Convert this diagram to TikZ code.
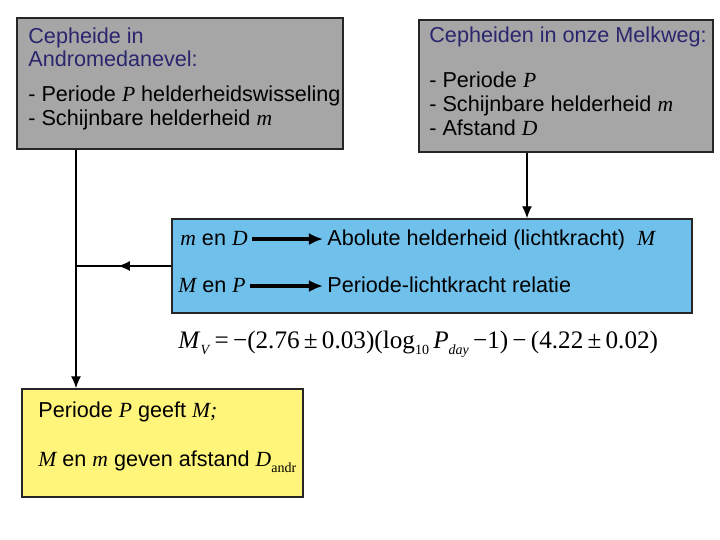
\documentclass[tikz,border=0pt]{standalone}
\usepackage{fontspec}
\setmainfont{Liberation Sans}
\newfontfamily\tms{Liberation Serif}
\usetikzlibrary{calc, arrows.meta}
\definecolor{grijs}{RGB}{166,166,166}
\definecolor{blauw}{RGB}{112,192,236}
\definecolor{geel}{RGB}{255,245,122}
\definecolor{titel}{RGB}{42,38,110}
\newcommand{\gr}[1]{{\tms\itshape #1}}
\newcommand{\lo}[1]{\raisebox{-0.45ex}{\scriptsize #1}}

\begin{document}
\begin{tikzpicture}[x=0.5pt, y=-0.5pt,
  box/.style={draw=black!85, line width=0.7pt, inner sep=0pt},
  txt/.style={anchor=base west, inner sep=0pt, font=\fontsize{10.8}{12}\selectfont},
  verband/.style={line width=0.7pt, -{Latex[length=6pt, width=5pt]}},
  pijl/.style={line width=1.6pt, -{Latex[length=7pt, width=6pt]}, shorten <=2pt, shorten >=2pt}]
\useasboundingbox (0,0) rectangle (720,540);
\coordinate (links) at (76,0);
\coordinate (rechts) at (527,0);
\node[box, fill=grijs, minimum width=163pt, minimum height=65.5pt] (andr) at (180,83.5) {};
\node[box, fill=grijs, minimum width=147pt, minimum height=66pt] (melk) at (566,86) {};
\node[box, fill=blauw, minimum width=260pt, minimum height=47pt] (rel) at (432,266) {};
\node[box, fill=geel, minimum width=140.5pt, minimum height=54pt] (uit) at (162.5,443) {};
% tekst links
\node[txt, text=titel] (a1) at (28,44) {Cepheide in};
\node[txt, text=titel] (a2) at (28,67) {Andromedanevel:};
\node[txt] (a3) at (28,102) {- Periode \gr{P} helderheidswisseling};
\node[txt] (a4) at (28,126) {- Schijnbare helderheid \gr{m}};
% tekst rechts
\node[txt, text=titel] (b1) at (429,43) {Cepheiden in onze Melkweg:};
\node[txt] (b2) at (429,88) {- Periode \gr{P}};
\node[txt] (b3) at (429,112) {- Schijnbare helderheid \gr{m}};
\node[txt] (b4) at (429,136) {- Afstand \gr{D}};
% blauw
\node[txt] (md) at (180,246) {\gr{m} en \gr{D}};
\node[txt] (abs) at (327,246) {Abolute helderheid (lichtkracht)\ \ \gr{M}};
\node[txt] (mp) at (178,293) {\gr{M} en \gr{P}};
\node[txt] (plr) at (327,293) {Periode-lichtkracht relatie};
\draw[pijl] (md.east) -- (md.east -| abs.west);
\draw[pijl] (mp.east) -- (mp.east -| plr.west);
\node[anchor=base west, inner sep=0pt, font=\tms\fontsize{12.6}{14}\selectfont] (formule) at (178,349)
  {\textit{M}\lo{\textit{V}}\,=\,−(2.76\,±\,0.03)(log\lo{10}\,\textit{P}\lo{\textit{day}}\,−1)\,−\,(4.22\,±\,0.02)};
% geel
\node[txt] (c1) at (38,418) {Periode \gr{P} geeft \gr{M;}};
\node[txt] (c2) at (38,467) {\gr{M} en \gr{m} geven afstand \gr{D}\lo{\tms andr}};
% verbindingen
\draw[verband] (andr.south -| links) -- (uit.north -| links);
\draw[verband] (melk.south -| rechts) -- (rel.north -| rechts);
\draw[line width=0.7pt] (rel.west) -- (rel.west -| links);
\draw[verband] (rel.west) -- ($(rel.west)!0.56!(rel.west -| links)$);
\end{tikzpicture}
\end{document}
